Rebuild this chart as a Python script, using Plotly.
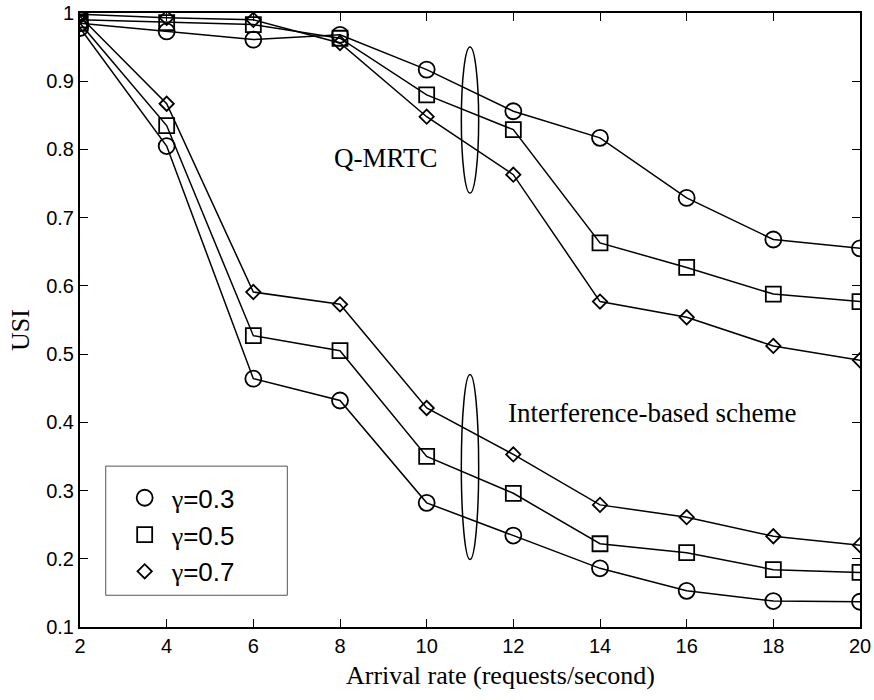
import plotly.graph_objects as go

# Arrival rate (requests/second)
arrival_rate = [2, 4, 6, 8, 10, 12, 14, 16, 18, 20]

# USI, Q-MRTC scheme
qmrtc_g03 = [0.985, 0.973, 0.961, 0.968, 0.917, 0.856, 0.817, 0.729, 0.668, 0.655]
qmrtc_g05 = [0.990, 0.986, 0.983, 0.963, 0.880, 0.829, 0.663, 0.627, 0.588, 0.577]
qmrtc_g07 = [0.998, 0.993, 0.990, 0.956, 0.848, 0.763, 0.577, 0.554, 0.512, 0.491]

# USI, interference-based scheme
ib_g03 = [0.978, 0.805, 0.464, 0.432, 0.282, 0.234, 0.186, 0.153, 0.138, 0.137]
ib_g05 = [0.985, 0.835, 0.527, 0.505, 0.350, 0.296, 0.222, 0.209, 0.184, 0.180]
ib_g07 = [0.995, 0.867, 0.591, 0.573, 0.421, 0.353, 0.279, 0.261, 0.233, 0.220]

gamma_labels = ["γ=0.3", "γ=0.5", "γ=0.7"]
y_ticks = [0.1, 0.2, 0.3, 0.4, 0.5, 0.6, 0.7, 0.8, 0.9, 1.0]
y_tick_text = ["0.1", "0.2", "0.3", "0.4", "0.5", "0.6", "0.7", "0.8", "0.9", "1"]

symbols = ["circle-open", "square-open", "diamond-open"]
sizes = [16, 15, 11]

SERIF = "Liberation Serif, Times New Roman, serif"
SANS = "Liberation Sans, Arial, sans-serif"

fig = go.Figure()

for group in ([qmrtc_g03, qmrtc_g05, qmrtc_g07], [ib_g03, ib_g05, ib_g07]):
    for i, ys in enumerate(group):
        fig.add_trace(go.Scatter(
            x=arrival_rate, y=ys, mode="lines+markers",
            line=dict(color="black", width=1.5),
            marker=dict(symbol=symbols[i], size=sizes[i], color="black",
                        line=dict(color="black", width=1.8)),
            showlegend=False, legendgroup=gamma_labels[i],
        ))

# marker-only legend entries, gamma set in a serif face
for i, lab in enumerate(gamma_labels):
    name = lab.replace("γ", "<span style='font-family:Liberation Serif'>γ</span>")
    fig.add_trace(go.Scatter(
        x=[None], y=[None], mode="markers", name=name,
        marker=dict(symbol=symbols[i], size=sizes[i], color="black",
                    line=dict(color="black", width=1.8)),
        legendgroup=lab,
    ))

# frame around the legend
fig.add_shape(type="rect", xref="paper", yref="paper",
              x0=0.033, x1=0.2658, y0=0.0517, y1=0.262,
              line=dict(color="#555555", width=1), fillcolor="white",
              layer="below")

# ellipses grouping the two sets of curves
for y0, y1 in ((0.736, 0.950), (0.199, 0.470)):
    fig.add_shape(type="circle", xref="x", yref="y",
                  x0=10.8, x1=11.2, y0=y0, y1=y1,
                  line=dict(color="black", width=1.5))

fig.add_annotation(x=9.04, y=0.788, text="Q-MRTC", showarrow=False,
                   font=dict(family=SERIF, size=27, color="black"))
fig.add_annotation(x=15.2, y=0.414, text="Interference-based scheme",
                   showarrow=False,
                   font=dict(family=SERIF, size=27, color="black"))

# axis titles
fig.add_annotation(xref="paper", yref="paper", x=0.539, y=-0.0785,
                   text="Arrival rate (requests/second)", showarrow=False,
                   xanchor="center", yanchor="middle",
                   font=dict(family=SERIF, size=26, color="black"))
fig.add_annotation(xref="paper", yref="paper", x=-0.0769, y=0.4837,
                   text="USI", showarrow=False, textangle=-90,
                   xanchor="center", yanchor="middle",
                   font=dict(family=SERIF, size=26, color="black"))

axis_common = dict(
    showline=True, linewidth=2, linecolor="black", mirror="ticks",
    ticks="inside", ticklen=8, tickwidth=1, tickcolor="black",
    showgrid=False, zeroline=False, automargin=False,
    tickfont=dict(family=SANS, size=20, color="black"),
)

fig.update_xaxes(range=[2, 20], tickvals=arrival_rate, **axis_common)
fig.update_yaxes(range=[0.1, 1.0], tickvals=y_ticks, ticktext=y_tick_text,
                 **axis_common)

fig.update_layout(
    width=874, height=700,
    margin=dict(l=80, r=14, t=13, b=73),
    paper_bgcolor="white", plot_bgcolor="white",
    legend=dict(x=0.0483, y=0.2571, xanchor="left", yanchor="top",
                borderwidth=0, bgcolor="rgba(0,0,0,0)",
                font=dict(family=SANS, size=26, color="black"),
                tracegroupgap=0, itemwidth=44,
                title=dict(text=" ", font=dict(size=4))),
)

fig.write_html("out.html")
